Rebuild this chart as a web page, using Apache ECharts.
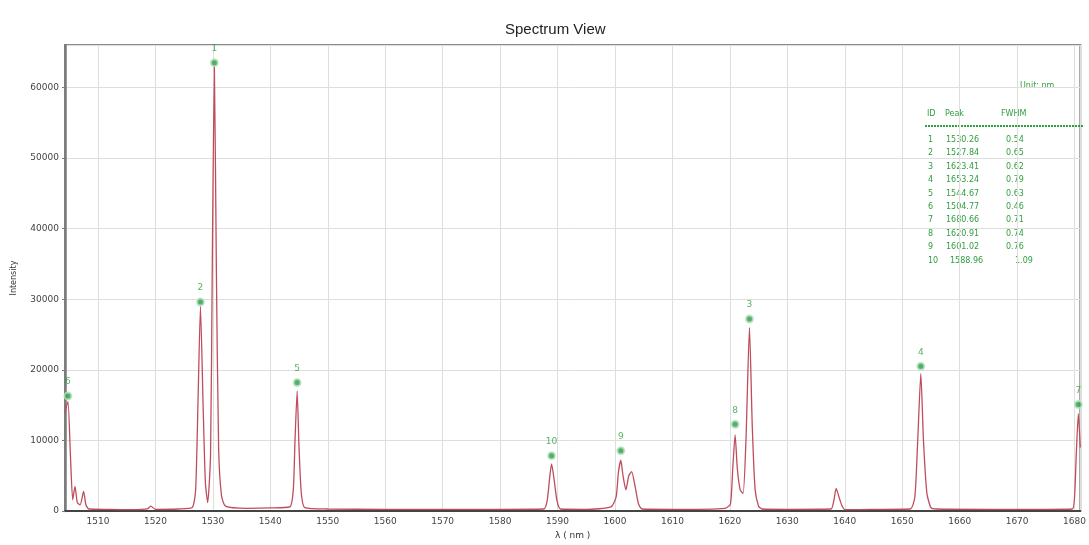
<!DOCTYPE html>
<html>
<head>
<meta charset="utf-8">
<script src="https://cdn.jsdelivr.net/npm/echarts@6/dist/echarts.min.js"></script>
<style>
  html, body { margin: 0; padding: 0; background: #fff; }
  #chart { width: 1089px; height: 545px; }
</style>
</head>
<body>
<div id="chart"></div>
<script>
// spectrum trace (nm, counts)
const wavelength = [
  1504.26, 1504.77, 1505.2, 1505.6, 1506.0, 1506.4, 1506.9, 1507.5, 1507.9, 1508.4,
  1512, 1516, 1518.6, 1519.2, 1520, 1524, 1526.4, 1527.0, 1527.4, 1527.84,
  1528.3, 1528.7, 1529.1, 1529.6, 1529.9, 1530.26, 1530.6, 1531.0, 1531.5, 1532.2,
  1536, 1540, 1543.4, 1544.0, 1544.3, 1544.67, 1545.0, 1545.4, 1546.0, 1550,
  1560, 1570, 1580, 1587.6, 1588.2, 1588.6, 1588.96, 1589.4, 1589.9, 1590.5,
  1595, 1599.3, 1600.2, 1600.6, 1601.02, 1601.4, 1601.9, 1602.4, 1602.9, 1603.5,
  1604.1, 1604.7, 1610, 1619.2, 1620.1, 1620.5, 1620.91, 1621.3, 1621.8, 1622.3,
  1622.8, 1623.41, 1623.9, 1624.4, 1625.0, 1625.6, 1630, 1637.6, 1638.1, 1638.5,
  1639.0, 1639.5, 1640.1, 1645, 1651.4, 1652.2, 1652.7, 1653.24, 1653.7, 1654.3,
  1655.0, 1656, 1665, 1675, 1679.6, 1680.0, 1680.3, 1680.66, 1681
]
const intensity = [
  14000, 15500, 8000, 1600, 3500, 1200, 900, 2800, 900, 300,
  250, 200, 300, 700, 250, 300, 500, 3000, 15000, 29000,
  15000, 4000, 1200, 8000, 35000, 63000, 35000, 9000, 2200, 700,
  400, 450, 600, 3000, 10000, 17000, 9000, 2500, 500, 300,
  250, 250, 250, 300, 1500, 4500, 6700, 4500, 1500, 300,
  250, 600, 2000, 5500, 7200, 5000, 3000, 5000, 5600, 3500,
  1000, 300, 250, 400, 1000, 6000, 10800, 6000, 3000, 2500,
  10000, 26000, 12000, 3000, 700, 300, 250, 300, 1500, 3200,
  2000, 800, 200, 250, 300, 2000, 10000, 19500, 10000, 2500,
  500, 300, 250, 250, 300, 2000, 8000, 13800, 9000
]

// peak table
const peakId = [1, 2, 3, 4, 5, 6, 7, 8, 9, 10]
const peakWl = [1530.26, 1527.84, 1623.41, 1653.24, 1544.67, 1504.77, 1680.66, 1620.91, 1601.02, 1588.96]
const fwhm = ['0.54', '0.65', '0.62', '0.79', '0.63', '0.46', '0.71', '0.74', '0.76', '1.09']
// green peak markers sit a bit above each peak
const markerY = [63500, 29600, 27200, 20500, 18200, 16300, 15100, 12300, 8550, 7850]

const green = '#2f9e3f'

let chart = echarts.init(document.getElementById('chart'))

let tableTexts = [
  {type: 'text', left: 1020, top: 82, style: {text: 'Unit: nm', fill: green, font: '8px "DejaVu Sans"'}},
  {type: 'text', left: 927, top: 110, style: {text: 'ID', fill: green, font: '8px "DejaVu Sans"'}},
  {type: 'text', left: 945, top: 110, style: {text: 'Peak', fill: green, font: '8px "DejaVu Sans"'}},
  {type: 'text', left: 1001, top: 110, style: {text: 'FWHM', fill: green, font: '8px "DejaVu Sans"'}},
  {type: 'line', shape: {x1: 925, y1: 126, x2: 1084, y2: 126},
    style: {stroke: green, lineWidth: 2, lineDash: [2, 1]}}
]
peakId.forEach((id, i) => {
  let y = 136 + i * 13.4
  tableTexts.push({type: 'text', left: 928, top: y, style: {text: String(id), fill: green, font: '8px "DejaVu Sans"'}})
  tableTexts.push({type: 'text', left: id === 10 ? 950 : 946, top: y, style: {text: peakWl[i].toFixed(2), fill: green, font: '8px "DejaVu Sans"'}})
  tableTexts.push({type: 'text', left: id === 10 ? 1015 : 1006, top: y, style: {text: fwhm[i], fill: green, font: '8px "DejaVu Sans"'}})
})

let option = {
  animation: false,
  title: {
    text: 'Spectrum View',
    left: 500,
    top: 17,
    textStyle: {color: '#222', fontSize: 15, fontWeight: 'normal', fontFamily: 'Liberation Sans'}
  },
  grid: {
    left: 65, right: 7, top: 45, bottom: 29,
    show: true, borderColor: '#8a8a8a', borderWidth: 2
  },
  xAxis: {
    type: 'value',
    min: 1504.26,
    max: 1681,
    splitNumber: 18,
    minInterval: 10,
    maxInterval: 10,
    name: 'λ ( nm )',
    nameLocation: 'middle',
    nameGap: 19,
    nameTextStyle: {color: '#333', fontSize: 9, fontFamily: 'DejaVu Sans'},
    axisLine: {onZero: false, lineStyle: {color: '#444', width: 2}},
    axisTick: {show: false},
    axisLabel: {
      color: '#444', fontSize: 9, margin: 6, fontFamily: 'DejaVu Sans',
      showMinLabel: false, showMaxLabel: false,
      formatter: v => (v % 10 === 0 ? String(v) : '')
    },
    splitLine: {lineStyle: {color: '#dedede', width: 1}}
  },
  yAxis: {
    type: 'value',
    min: 0,
    max: 66000,
    interval: 10000,
    name: 'Intensity',
    nameLocation: 'middle',
    nameGap: 47,
    nameTextStyle: {color: '#333', fontSize: 8, fontFamily: 'DejaVu Sans'},
    axisLine: {show: true, lineStyle: {color: '#7a7a7a', width: 2.5}},
    axisTick: {show: true, length: 3, lineStyle: {color: '#7a7a7a'}},
    axisLabel: {
      color: '#444', fontSize: 9, margin: 6, fontFamily: 'DejaVu Sans', showMaxLabel: false,
      formatter: v => String(v)
    },
    splitLine: {lineStyle: {color: '#dedede', width: 1}}
  },
  graphic: tableTexts,
  series: [
    {
      name: 'spectrum',
      type: 'line',
      data: wavelength.map((w, i) => [w, intensity[i]]),
      symbol: 'none',
      smooth: 0.2,
      lineStyle: {color: '#bf4c5c', width: 1.3},
      z: 3
    },
    {
      name: 'peaks',
      type: 'scatter',
      data: peakWl.map((w, i) => [w, markerY[i], peakId[i]]),
      symbol: 'circle',
      symbolSize: 7,
      itemStyle: {color: '#2c9a45', borderColor: '#b8e6c0', borderWidth: 2},
      label: {
        show: true,
        position: 'top',
        distance: 5,
        color: green,
        fontSize: 9,
        fontFamily: 'DejaVu Sans',
        formatter: p => String(p.value[2])
      },
      z: 4
    }
  ]
}

chart.setOption(option)
</script>
</body>
</html>
